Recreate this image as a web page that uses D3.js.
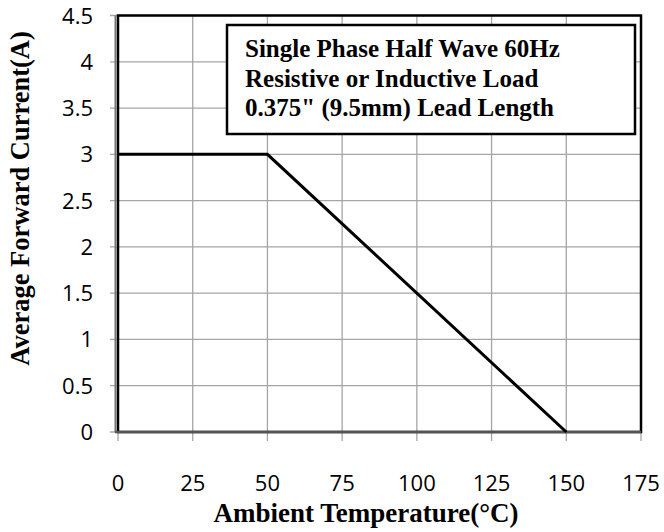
<!DOCTYPE html>
<html>
<head>
<meta charset="utf-8">
<script src="https://cdn.jsdelivr.net/npm/d3@7"></script>
<style>
  body { margin: 0; background: #fff; }
</style>
</head>
<body>
<div id="chart"></div>
<script>
// Derating curve data
const temps = [0, 50, 150];
const currents = [3, 3, 0];
const xTicks = [0, 25, 50, 75, 100, 125, 150, 175];
const yTicks = [0, 0.5, 1, 1.5, 2, 2.5, 3, 3.5, 4, 4.5];
const noteLines = [
  'Single Phase Half Wave 60Hz',
  'Resistive or Inductive Load',
  '0.375" (9.5mm) Lead Length'
];

const width = 664;
const height = 532;
const margin = { top: 15.5, right: 23, bottom: 100, left: 118 };
const GRID = '#a6a6a6';
const AXIS = '#777';
const SERIF = '"Liberation Serif", "Times New Roman", serif';
const SANS = '"Open Sans", sans-serif';

const svg = d3.select('#chart').append('svg')
  .attr('width', width)
  .attr('height', height);

const x = d3.scaleLinear().domain([0, 175]).range([margin.left, width - margin.right]);
const y = d3.scaleLinear().domain([0, 4.5]).range([height - margin.bottom, margin.top]);

// grid
svg.append('g')
  .selectAll('line')
  .data(xTicks)
  .enter().append('line')
  .attr('x1', d => x(d)).attr('x2', d => x(d))
  .attr('y1', y(4.5)).attr('y2', y(0) + 9)
  .attr('stroke', GRID).attr('stroke-width', 1.3);

svg.append('g')
  .selectAll('line')
  .data(yTicks)
  .enter().append('line')
  .attr('x1', x(0) - 8).attr('x2', x(175))
  .attr('y1', d => y(d)).attr('y2', d => y(d))
  .attr('stroke', GRID).attr('stroke-width', 1.3);

// plot border
svg.append('rect')
  .attr('x', x(0)).attr('y', y(4.5))
  .attr('width', x(175) - x(0)).attr('height', y(0) - y(4.5))
  .attr('fill', 'none').attr('stroke', '#000').attr('stroke-width', 2.5);

// axis lines
svg.append('line')
  .attr('x1', x(0) - 2.5).attr('x2', x(0) - 2.5)
  .attr('y1', y(4.5)).attr('y2', y(0))
  .attr('stroke', AXIS).attr('stroke-width', 2);
svg.append('line')
  .attr('x1', x(0) - 3).attr('x2', x(175))
  .attr('y1', y(0)).attr('y2', y(0))
  .attr('stroke', '#555').attr('stroke-width', 2.5);

// tick labels
svg.append('g')
  .selectAll('text')
  .data(xTicks)
  .enter().append('text')
  .attr('x', d => x(d)).attr('y', 490.5)
  .attr('text-anchor', 'middle')
  .style('font-family', SANS)
  .style('font-size', '22px')
  .text(d => d);

svg.append('g')
  .selectAll('text')
  .data(yTicks)
  .enter().append('text')
  .attr('x', 93).attr('y', d => y(d) + 8)
  .attr('text-anchor', 'end')
  .style('font-family', SANS)
  .style('font-size', '22px')
  .text(d => d);

// curve
const line = d3.line().x(d => x(d[0])).y(d => y(d[1]));
svg.append('path')
  .datum(d3.zip(temps, currents))
  .attr('d', line)
  .attr('fill', 'none')
  .attr('stroke', '#000')
  .attr('stroke-width', 3);

// note box
svg.append('rect')
  .attr('x', 227).attr('y', 25)
  .attr('width', 408).attr('height', 109)
  .attr('fill', '#fff').attr('stroke', '#000').attr('stroke-width', 2.5);

svg.append('g')
  .selectAll('text')
  .data(noteLines)
  .enter().append('text')
  .attr('x', 245).attr('y', (d, i) => 57 + i * 29.5)
  .style('font-family', SERIF)
  .style('font-weight', 'bold')
  .style('font-size', '25px')
  .text(d => d);

// axis titles
svg.append('text')
  .attr('x', 366).attr('y', 521.5)
  .attr('text-anchor', 'middle')
  .style('font-family', SERIF)
  .style('font-weight', 'bold')
  .style('font-size', '27px')
  .text('Ambient Temperature(°C)');

svg.append('text')
  .attr('transform', 'translate(29, 198.5) rotate(-90)')
  .attr('text-anchor', 'middle')
  .style('font-family', SERIF)
  .style('font-weight', 'bold')
  .style('font-size', '26.5px')
  .text('Average Forward Current(A)');
</script>
</body>
</html>
